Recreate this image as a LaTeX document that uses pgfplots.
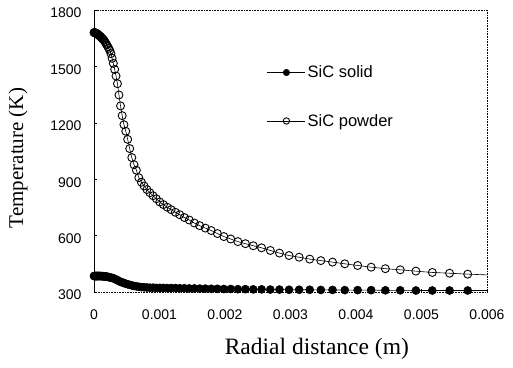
\documentclass[border=0pt]{standalone}
\usepackage{fontspec}
\setmainfont{Liberation Serif}
\newfontfamily\arial{Liberation Sans}
\usepackage{pgfplots}
\usepackage{pgfplotstable}
\pgfplotsset{compat=1.18}

\pgfplotstableread{
x T
0 1680
0.0000051 1680
0.0000104 1679
0.0000160 1679
0.0000219 1678
0.0000279 1677
0.0000344 1676
0.0000412 1675
0.0000483 1673
0.0000558 1671
0.0000637 1669
0.0000719 1666
0.0000806 1664
0.0000897 1661
0.0000992 1658
0.0001092 1655
0.0001197 1651
0.0001308 1647
0.0001424 1643
0.0001545 1638
0.0001673 1631
0.0001807 1623
0.0001948 1615
0.0002097 1606
0.0002252 1596
0.0002415 1585
0.0002587 1568
0.0002766 1543
0.0002955 1516
0.0003153 1484
0.0003362 1449
0.0003580 1408
0.0003810 1348
0.0004051 1290
0.0004304 1238
0.0004570 1190
0.0004850 1155
0.0005142 1112
0.0005450 1063
0.0005773 1015
0.0006112 977
0.0006469 948
0.0006843 908
0.0007236 884
0.0007648 864
0.0008081 845
0.0008535 828
0.0009013 812
0.0009514 796
0.0010040 779
0.0010593 765
0.0011173 751
0.0011783 738
0.0012422 724
0.0013094 711
0.0013800 696
0.0014539 683
0.0015318 667
0.0016134 653
0.0016991 640
0.0017891 627
0.0018836 611
0.0019829 595
0.0020870 582
0.0021965 568
0.0023114 557
0.0024320 546
0.0025586 535
0.0026917 521
0.0028314 507
0.0029779 494
0.0031319 485
0.0032936 475
0.0034633 467
0.0036416 459
0.0038287 450
0.0040251 441
0.0042315 432
0.0044481 424
0.0046755 418
0.0049144 411
0.0051652 404
0.0054285 400
0.0057051 395
}\powder

\pgfplotstableread{
x T
0.0057051 395
0.006 391
}\powderend

\pgfplotstableread{
x T
0 385
0.0000051 385
0.0000104 385
0.0000160 385
0.0000219 385
0.0000279 385
0.0000344 385
0.0000412 385
0.0000483 385
0.0000558 385
0.0000637 385
0.0000719 385
0.0000806 385
0.0000897 385
0.0000992 385
0.0001092 385
0.0001197 384
0.0001308 384
0.0001424 384
0.0001545 383
0.0001673 383
0.0001807 382
0.0001948 382
0.0002097 381
0.0002252 379
0.0002415 378
0.0002587 376
0.0002766 375
0.0002955 373
0.0003153 370
0.0003362 366
0.0003580 363
0.0003810 358
0.0004051 354
0.0004304 351
0.0004570 348
0.0004850 344
0.0005142 341
0.0005450 338
0.0005773 335
0.0006112 332
0.0006469 330
0.0006843 328
0.0007236 326
0.0007648 325
0.0008081 324
0.0008535 323
0.0009013 323
0.0009514 322
0.0010040 322
0.0010593 322
0.0011173 321
0.0011783 321
0.0012422 321
0.0013094 320
0.0013800 320
0.0014539 319
0.0015318 319
0.0016134 318
0.0016991 318
0.0017891 317
0.0018836 317
0.0019829 316
0.0020870 316
0.0021965 315
0.0023114 315
0.0024320 314
0.0025586 314
0.0026917 313
0.0028314 313
0.0029779 312
0.0031319 312
0.0032936 312
0.0034633 311
0.0036416 311
0.0038287 310
0.0040251 310
0.0042315 310
0.0044481 309
0.0046755 309
0.0049144 308
0.0051652 308
0.0054285 308
0.0057051 308
}\solid

\pgfplotstableread{
x T
0.0057051 308
0.006 308
}\solidend

\begin{document}
\begin{tikzpicture}
\begin{axis}[
  scale only axis,
  width=393pt, height=282pt,
  anchor=south west,
  at={(0pt,0pt)},
  xmin=0, xmax=0.006,
  ymin=300, ymax=1800,
  clip=false,
  scaled x ticks=false,
  xtick={0,0.001,0.002,0.003,0.004,0.005,0.006},
  xticklabels={0,0.001,0.002,0.003,0.004,0.005,0.006},
  ytick={300,600,900,1200,1500,1800},
  yticklabels={300,600,900,1200,1500,1800},
  tick align=inside,
  major tick length=3pt,
  tick style={black, line width=0.5pt},
  xtick pos=bottom, ytick pos=left,
  axis line style={black, densely dotted, line width=0.6pt},
  ticklabel style={font=\arial\fontsize{14}{16}\selectfont},
  xticklabel style={yshift=-14pt},
  yticklabel style={xshift=-9pt, yshift=-3pt},
  xlabel={Radial distance (m)},
  ylabel={Temperature (K)},
  xlabel style={at={(axis description cs:0.567,-0.202)}, anchor=center, font=\fontsize{23.5}{26}\selectfont},
  ylabel style={at={(axis description cs:-0.193,0.475)}, anchor=center, font=\fontsize{21}{24}\selectfont},
  legend style={draw=none, fill=none, at={(rel axis cs:0.44,0.81)}, anchor=north west,
    font=\arial\fontsize{16.5}{18}\selectfont, row sep=31pt, inner sep=0pt,
    /tikz/every even column/.append style={column sep=0pt}},
  legend cell align=left,
  legend image code/.code={\draw[mark repeat=2,mark phase=2,#1,mark size=3.2pt] plot coordinates {(0pt,0pt) (19pt,0pt) (38pt,0pt)};},
  every axis plot/.append style={black, line width=0.6pt},
  after end axis/.code={\draw[black, line width=0.7pt] (rel axis cs:0,0) -- (rel axis cs:0,1);},
]
\addplot[black, line width=0.6pt, forget plot] table[x=x, y=T] {\powderend};
\addplot[black, line width=0.6pt, forget plot] table[x=x, y=T] {\solidend};
\addplot[black, line width=0.6pt, mark=*, mark size=4pt, mark options={solid, fill=black, line width=0.6pt}] table[x=x, y=T] {\solid};
\addlegendentry{SiC solid}
\addplot[black, line width=0.6pt, mark=o, mark size=4pt, mark options={solid, line width=0.9pt}] table[x=x, y=T] {\powder};
\addlegendentry{SiC powder}
\end{axis}
\pgfresetboundingbox
\useasboundingbox (-94pt,-75pt) rectangle (419pt,292pt);
\end{tikzpicture}
\end{document}
